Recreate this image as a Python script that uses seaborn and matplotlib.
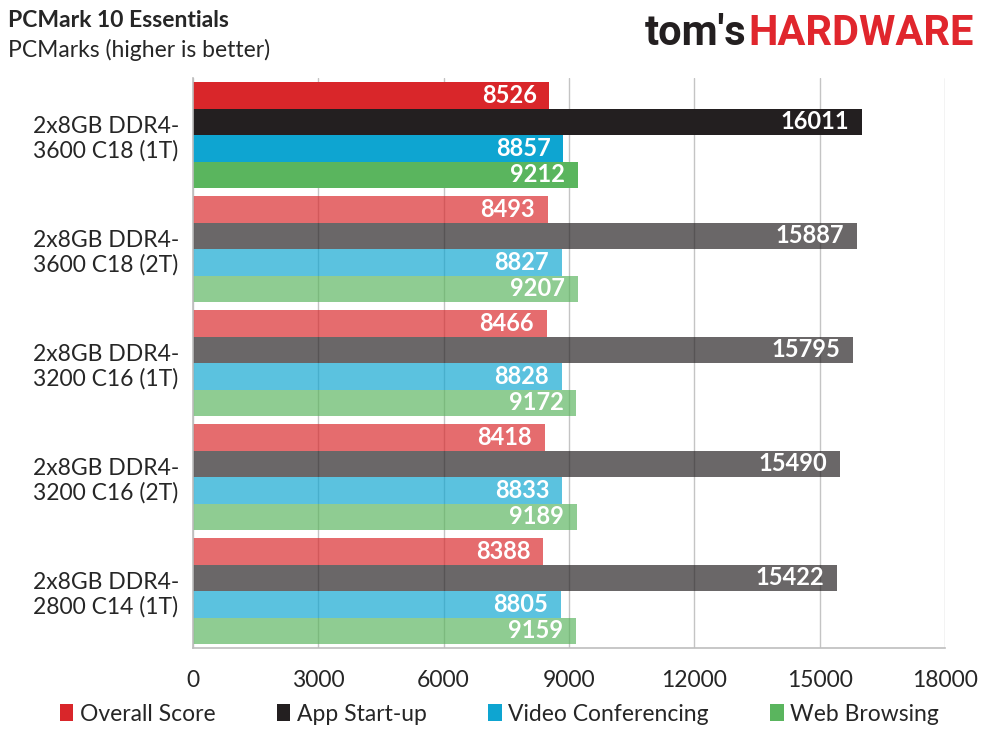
import matplotlib
matplotlib.use("Agg")
import matplotlib.pyplot as plt
import matplotlib.ticker as mticker
from matplotlib.patches import Patch
import pandas as pd
import seaborn as sns

configs = ["2x8GB DDR4-\n3600 C18 (1T)", "2x8GB DDR4-\n3600 C18 (2T)",
           "2x8GB DDR4-\n3200 C16 (1T)", "2x8GB DDR4-\n3200 C16 (2T)",
           "2x8GB DDR4-\n2800 C14 (1T)"]
tests = ["Overall Score", "App Start-up", "Video Conferencing", "Web Browsing"]
overall = [8526, 8493, 8466, 8418, 8388]
app_startup = [16011, 15887, 15795, 15490, 15422]
video_conf = [8857, 8827, 8828, 8833, 8805]
web_browsing = [9212, 9207, 9172, 9189, 9159]
colors = ["#d9262a", "#231f20", "#0ea5d1", "#5ab55e"]

rows = []
for test, vals in zip(tests, [overall, app_startup, video_conf, web_browsing]):
    for cfg, v in zip(configs, vals):
        rows.append({"config": cfg, "test": test, "score": v})
df = pd.DataFrame(rows)

sns.set_style("white")
plt.rcParams["font.family"] = ["Lato", "DejaVu Sans"]

fig = plt.figure(figsize=(9.89, 7.41), dpi=100)
ax = fig.add_axes([0.195, 0.1255, 0.7605, 0.769])

sns.barplot(data=df, y="config", x="score", hue="test", orient="h",
            palette=colors, width=0.93, saturation=1, legend=False, ax=ax)

# first config full colour, the rest faded
for cont in ax.containers:
    for i, bar in enumerate(cont):
        bar.set_edgecolor("none")
        if i > 0:
            bar.set_alpha(0.68)
        w = bar.get_width()
        ax.text(w - 300, bar.get_y() + bar.get_height() / 2, f"{int(w)}",
                ha="right", va="center", color="white", fontsize=17,
                fontweight="bold")

ax.set_xlim(0, 18000)
ax.set_ylim(4.5, -0.5)
ax.xaxis.set_major_locator(mticker.MultipleLocator(3000))
ax.xaxis.set_minor_locator(mticker.MultipleLocator(600))
ax.yaxis.set_minor_locator(mticker.FixedLocator([-0.5, 0.5, 1.5, 2.5, 3.5, 4.5]))
ax.set_axisbelow(True)
ax.grid(axis="x", which="major", color="#c4c4c4", linewidth=1)
ax.grid(axis="y", visible=False)

for side in ["top", "right"]:
    ax.spines[side].set_visible(False)
for side in ["left", "bottom"]:
    ax.spines[side].set_color("#bdbdbd")
    ax.spines[side].set_linewidth(1.2)

ax.tick_params(axis="x", which="major", direction="in", length=7, color="#c4c4c4",
               labelsize=16.5, pad=16)
ax.tick_params(axis="x", which="minor", direction="in", length=7, color="#c4c4c4")
ax.tick_params(axis="y", which="major", length=0, labelsize=16.5, pad=10)
ax.tick_params(axis="y", which="minor", direction="out", length=6, color="#bdbdbd")
for lbl in ax.get_yticklabels():
    lbl.set_multialignment("center")
ax.set_xlabel("")
ax.set_ylabel("")

fig.text(0.008, 0.972, "PCMark 10 Essentials", fontsize=16.5, fontweight="bold",
         va="center", ha="left")
fig.text(0.008, 0.933, "PCMarks (higher is better)", fontsize=16.5,
         va="center", ha="left")

# logo
t1 = fig.text(0.652, 0.955, "tom's", fontsize=30, fontweight="bold",
              color="#231f20", va="center", ha="left", family="Roboto")
fig.canvas.draw()
bb = t1.get_window_extent()
x2 = fig.transFigure.inverted().transform((bb.x1 + 2, 0))[0]
fig.text(x2, 0.955, "HARDWARE", fontsize=30, fontweight="bold",
         color="#e0262d", va="center", ha="left", family="Roboto")

handles = [Patch(facecolor=c, edgecolor="none") for c in colors]
fig.legend(handles, tests, loc="center", bbox_to_anchor=(0.505, 0.036), ncol=4,
           frameon=False, fontsize=16.5, handlelength=0.6, handleheight=0.75,
           handletextpad=0.3, columnspacing=2.65)

fig.savefig("out.png", dpi=100)
